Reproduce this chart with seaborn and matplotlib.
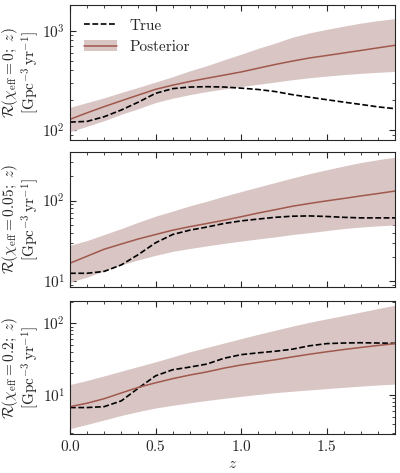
import numpy as np
import pandas as pd
import seaborn as sns
import matplotlib.pyplot as plt
from matplotlib.ticker import MultipleLocator
from matplotlib.patches import Patch
from matplotlib.lines import Line2D

# values, on a z grid of 0.1
z = [0.0, 0.1, 0.2, 0.3, 0.4, 0.5, 0.6, 0.7, 0.8, 0.9,
     1.0, 1.1, 1.2, 1.3, 1.4, 1.5, 1.6, 1.7, 1.8, 1.9]

# chi_eff = 0
true_0 = [121, 123, 137, 160, 192, 235, 262, 272, 274, 272,
          265, 257, 245, 228, 215, 203, 192, 182, 172, 165]
med_0 = [129, 150, 173, 198, 226, 258, 284, 309, 333, 358,
         385, 420, 458, 495, 532, 563, 597, 633, 672, 713]
lo_0 = [97, 110, 125, 145, 165, 190, 210, 228, 245, 260,
        275, 290, 305, 322, 337, 350, 362, 373, 382, 390]
hi_0 = [170, 190, 212, 240, 270, 305, 345, 395, 445, 510,
        580, 665, 750, 860, 950, 1030, 1110, 1190, 1260, 1320]

# chi_eff = 0.05
true_005 = [12.6, 12.6, 13.3, 16, 21.5, 30, 38, 43, 47, 52,
            56, 59, 62, 64, 64.5, 63.5, 62, 61, 61, 61]
med_005 = [16.8, 20.5, 25, 29, 33.5, 38, 43, 47.5, 52, 57,
           63, 70, 77, 85, 92, 99, 106, 114, 122, 131]
lo_005 = [9.8, 11.3, 13.5, 16, 18.5, 21, 23.5, 25.5, 27.5, 29.5,
          31.5, 33.5, 35.5, 38, 40, 42.5, 45, 47, 48.5, 50]
hi_005 = [28, 32, 38, 45, 54, 64, 74, 86, 98, 113,
          129, 147, 167, 190, 215, 240, 267, 295, 320, 343]

# chi_eff = 0.2
true_02 = [6.7, 6.7, 6.9, 8.3, 12.5, 18.5, 22.5, 24.5, 27, 32.5,
           36.5, 38.7, 40.7, 43.5, 48.5, 52, 53, 53.5, 53, 52.5]
med_02 = [6.9, 7.7, 8.9, 10.7, 12.8, 14.8, 16.9, 19, 21, 23.7,
          26.2, 28.5, 31, 34, 37, 40, 43, 46, 49, 52]
lo_02 = [3.4, 3.9, 4.5, 5.2, 5.9, 6.6, 7.2, 7.8, 8.4, 9,
         9.6, 10.2, 10.8, 11.3, 11.8, 12.3, 12.8, 13.3, 13.8, 14.2]
hi_02 = [14, 16, 18.5, 21.5, 25, 29, 34, 40, 46, 53,
         61, 70, 80, 91, 103, 115, 128, 143, 160, 178]

chi_labels = ["0", "0.05", "0.2"]
ylims = [(80, 1800), (8.5, 400), (2.85, 205)]

sns.set_theme(style="ticks")
plt.rcParams["font.family"] = ["serif"]
plt.rcParams["font.serif"] = ["cmr10", "DejaVu Serif"]
plt.rcParams["mathtext.fontset"] = "cm"
plt.rcParams["axes.formatter.use_mathtext"] = True
plt.rcParams["axes.unicode_minus"] = False

line_col = "#a0574c"
band_col = "#d9c6c4"
dash = (0, (3.5, 1.5))

fig = plt.figure(figsize=(4, 4.73), dpi=100)
boxes = [(0.175, 0.704, 0.8125, 0.285),
         (0.175, 0.393, 0.8125, 0.286),
         (0.175, 0.082, 0.8125, 0.282)]

trues = [true_0, true_005, true_02]
meds = [med_0, med_005, med_02]
los = [lo_0, lo_005, lo_02]
his = [hi_0, hi_005, hi_02]

for i in range(3):
    ax = fig.add_axes(boxes[i])
    df = pd.DataFrame({"z": z, "true": trues[i], "med": meds[i]})
    ax.fill_between(z, los[i], his[i], color=band_col, lw=0)
    sns.lineplot(data=df, x="z", y="true", ax=ax, color="black", ls=dash, lw=1.2)
    sns.lineplot(data=df, x="z", y="med", ax=ax, color=line_col, lw=1.1)
    ax.set_yscale("log")
    ax.set_xlim(0, 1.9)
    ax.set_ylim(*ylims[i])
    ax.xaxis.set_major_locator(MultipleLocator(0.5))
    ax.xaxis.set_minor_locator(MultipleLocator(0.1))
    ax.tick_params(which="both", direction="in", top=True, right=True, labelsize=11)
    ax.tick_params(which="major", length=4, width=0.8)
    ax.tick_params(which="minor", length=2, width=0.6)
    for s in ax.spines.values():
        s.set_linewidth(0.8)
    ax.set_ylabel(r"$\mathcal{R}(\chi_{\rm eff}=" + chi_labels[i] + r";\ z)$" + "\n"
                  + r"$[\mathrm{Gpc}^{-3}\,\mathrm{yr}^{-1}]$", fontsize=11, linespacing=1.0)
    ax.yaxis.set_label_coords(-0.088, 0.5)
    if i < 2:
        ax.set_xticklabels([])
        ax.set_xlabel("")
    else:
        ax.set_xlabel(r"$z$", fontsize=11, labelpad=2)
    if i == 0:
        h_true = Line2D([], [], color="black", ls=dash, lw=1.2)
        h_post = (Patch(color=band_col, lw=0), Line2D([], [], color=line_col, lw=1.1))
        ax.legend([h_true, h_post], ["True", "Posterior"], loc="upper left",
                  frameon=False, fontsize=11, handlelength=2.2)

fig.savefig("out.png", dpi=100)
